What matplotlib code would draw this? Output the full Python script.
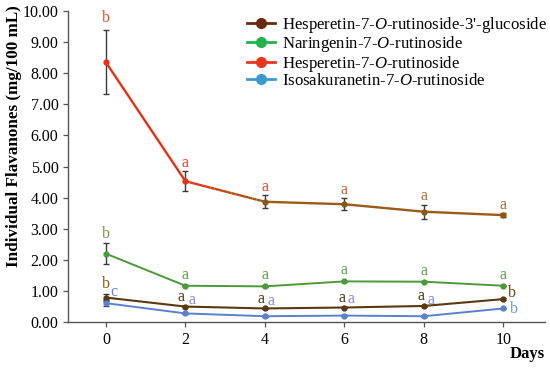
import numpy as np
import matplotlib.pyplot as plt
from matplotlib.collections import LineCollection
from matplotlib.lines import Line2D

plt.rcParams['font.family'] = ['Liberation Serif', 'DejaVu Serif']
plt.rcParams['mathtext.fontset'] = 'custom'
plt.rcParams['mathtext.rm'] = 'Liberation Serif'
plt.rcParams['mathtext.it'] = 'Liberation Serif:italic'

days = [0, 2, 4, 6, 8, 10]

# values (mg/100 mL)
hesp_glu = [0.79, 0.50, 0.44, 0.47, 0.52, 0.74]
hesp_glu_err = [0.12, 0.02, 0.02, 0.02, 0.02, 0.02]
nar = [2.20, 1.17, 1.15, 1.31, 1.30, 1.17]
nar_err = [0.33, 0.02, 0.02, 0.02, 0.02, 0.02]
hesp = [8.35, 4.53, 3.87, 3.79, 3.55, 3.44]
hesp_err = [1.03, 0.33, 0.21, 0.19, 0.23, 0.07]
iso = [0.61, 0.28, 0.19, 0.21, 0.19, 0.44]
iso_err = [0.10, 0.02, 0.02, 0.02, 0.02, 0.02]

hesp_glu_let = ['b', 'a', 'a', 'a', 'a', 'b']
nar_let = ['b', 'a', 'a', 'a', 'a', 'a']
hesp_let = ['b', 'a', 'a', 'a', 'a', 'a']
iso_let = ['c', 'a', 'a', 'a', 'a', 'b']

labels = ["Hesperetin-7-$\\mathit{O}$-rutinoside-3'-glucoside",
          "Naringenin-7-$\\mathit{O}$-rutinoside",
          "Hesperetin-7-$\\mathit{O}$-rutinoside",
          "Isosakuranetin-7-$\\mathit{O}$-rutinoside"]
legend_colors = ['#6b2a0b', '#22b14c', '#e8371a', '#3a9ad0']

fig = plt.figure(figsize=(5.5, 3.69), dpi=100)
ax = fig.add_axes([0.124, 0.127, 0.867, 0.843])

ecol = '#3a3a3a'
ekw = dict(ecolor=ecol, elinewidth=1.0, capsize=2.2, capthick=1.0, zorder=2)

# hesperetin-7-O-rutinoside: red fading to brown after day 2
ax.plot(days[:2], hesp[:2], color='#e8300f', lw=1.7, zorder=3)
x = np.linspace(days[1], days[2], 20)
y = np.interp(x, days, hesp)
pts = np.array([x, y]).T.reshape(-1, 1, 2)
segs = np.concatenate([pts[:-1], pts[1:]], axis=1)
c0 = np.array([0.91, 0.19, 0.06])
c1 = np.array([0.60, 0.36, 0.08])
t = np.linspace(0, 1, len(segs))
cols = [c0 * (1 - v) + c1 * v for v in t]
ax.add_collection(LineCollection(segs, colors=cols, lw=1.7, zorder=3))
ax.plot(days[2:], hesp[2:], color='#9a5c14', lw=1.7, zorder=3)
ax.errorbar(days, hesp, yerr=hesp_err, fmt='none', **ekw)
ax.plot(days, hesp, ls='none', marker='o', ms=3.5,
        color='#e8300f', zorder=4, markevery=[0, 1])
ax.plot(days, hesp, ls='none', marker='o', ms=3.5,
        color='#8a5a14', zorder=4, markevery=[2, 3, 4, 5])

ax.errorbar(days, nar, yerr=nar_err, fmt='none', **ekw)
ax.plot(days, nar, color='#4a9a38', lw=1.4, marker='o', ms=3.5, zorder=3)

ax.errorbar(days, hesp_glu, yerr=hesp_glu_err, fmt='none', **ekw)
ax.plot(days, hesp_glu, color='#5a3810', lw=1.5, marker='o', ms=3.5, zorder=3)

ax.errorbar(days, iso, yerr=iso_err, fmt='none', **ekw)
ax.plot(days, iso, color='#5a80d0', lw=1.4, marker='o', ms=3.5, zorder=3)

# significance letters (offsets in points)
fs = 11.5
hesp_cols = ['#e8502a', '#e8452a', '#e04a2a', '#c8602a', '#a87030', '#9a7030']
for i, d in enumerate(days):
    off = 9 if i == 0 else 6
    ax.annotate(hesp_let[i], (d, hesp[i] + hesp_err[i]), xytext=(0, off),
                textcoords='offset points', ha='center', va='center',
                fontsize=fs, color=hesp_cols[i])
for i, d in enumerate(days):
    ax.annotate(nar_let[i], (d, nar[i] + nar_err[i]), xytext=(0, 7.5 if i else 7),
                textcoords='offset points', ha='center', va='center',
                fontsize=fs, color='#7a9a40' if i == 0 else '#5aa048')
glu_off = [(0, 10), (-3, 7), (-3, 7), (-2, 7), (-2, 7), (6, 4.5)]
glu_cols = ['#8a5a1a', '#4a3a10', '#4a3a10', '#4a3a10', '#4a3a10', '#6a4a10']
for i, d in enumerate(days):
    ax.annotate(hesp_glu_let[i], (d, hesp_glu[i]), xytext=glu_off[i],
                textcoords='offset points', ha='center', va='center',
                fontsize=fs, color=glu_cols[i])
iso_off = [(6, 8), (4.5, 10), (4.5, 11), (5, 12), (5, 12), (7.5, -0.5)]
iso_cols = ['#6a80e0', '#8a88d8', '#8a88d8', '#8a88d8', '#8a88d8', '#6a9ae0']
for i, d in enumerate(days):
    ax.annotate(iso_let[i], (d, iso[i]), xytext=iso_off[i],
                textcoords='offset points', ha='center', va='center',
                fontsize=fs, color=iso_cols[i])

ax.set_xlim(-0.95, 11.05)
ax.set_ylim(0, 10)
ax.set_xticks(days)
ax.set_yticks(np.arange(0, 11, 1))
ax.yaxis.set_major_formatter(plt.FormatStrFormatter('%.2f'))
ax.tick_params(labelsize=11.5, length=3.5, width=0.9, color='#555555')
for s in ['top', 'right']:
    ax.spines[s].set_visible(False)
for s in ['left', 'bottom']:
    ax.spines[s].set_color('#555555')
    ax.spines[s].set_linewidth(1.0)

fig.text(0.026, 0.63, 'Individual Flavanones (mg/100 mL)', rotation=90,
         ha='center', va='center', fontsize=12.3, fontweight='bold')
fig.text(0.958, 0.04, 'Days', ha='center', va='center',
         fontsize=12, fontweight='bold')

handles = [Line2D([], [], color=c, lw=2, marker='o', ms=7) for c in legend_colors]
ax.legend(handles, labels, loc='upper left', bbox_to_anchor=(0.36, 1.01),
          frameon=False, fontsize=12.1, handlelength=1.7, handletextpad=0.4,
          labelspacing=-0.03, borderaxespad=0)

fig.savefig('out.png', dpi=100)
